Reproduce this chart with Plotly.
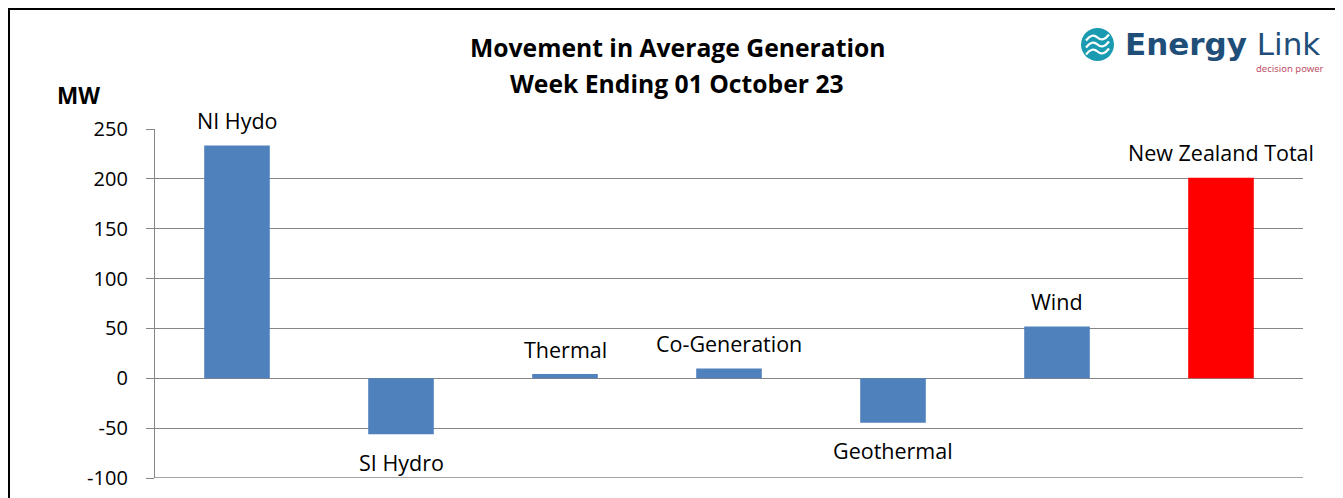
import plotly.graph_objects as go

categories = ["NI Hydo", "SI Hydro", "Thermal", "Co-Generation", "Geothermal", "Wind", "New Zealand Total"]
values = [233.5, -56, 4.3, 9.8, -44.5, 52, 201]
bar_colors = ["#4F81BD", "#4F81BD", "#4F81BD", "#4F81BD", "#4F81BD", "#4F81BD", "#FF0000"]
tick_vals = [-100, -50, 0, 50, 100, 150, 200, 250]
tick_text = ["-100", "-50", "0", "50", "100", "150", "200", "250"]
title_lines = ["Movement in Average Generation", "Week Ending 01 October 23"]

# The page body has an 8px margin, so the figure sits at (8, 8) in the window.
OFF = 8
W, H = 1335, 490
ML, MR, MT, MB = 147, 40, 121, 20
PW, PH = W - ML - MR, H - MT - MB
Y_MIN, Y_MAX = tick_vals[0], tick_vals[-1]

def px(x):
    # window pixel -> paper coordinate
    return (x - OFF - ML) / PW

def py(y):
    return (H - MB - (y - OFF)) / PH

FONT = "Open Sans, Noto Sans, Liberation Sans, sans-serif"
GRID = "#868686"

fig = go.Figure()
fig.add_trace(go.Bar(
    x=categories, y=values, marker=dict(color=bar_colors, line=dict(width=0)),
    width=0.4, showlegend=False, hoverinfo="x+y",
))

annotations = []
for c, v in zip(categories, values):
    annotations.append(dict(
        x=c, y=v, xref="x", yref="y", text=c, showarrow=False,
        yshift=25 if v >= 0 else -28,
        font=dict(size=21.5, color="#000000", family=FONT),
    ))

for txt, ypos in zip(title_lines, (47, 83)):
    annotations.append(dict(
        x=px(677), y=py(ypos), xref="paper", yref="paper",
        text="<b>" + txt + "</b>",
        showarrow=False, font=dict(size=24.7, color="#000000", family=FONT),
        align="center", xanchor="center", yanchor="middle",
    ))
annotations.append(dict(
    x=px(78), y=py(95), xref="paper", yref="paper", text="<b>MW</b>",
    showarrow=False, font=dict(size=22.5, color="#000000", family=FONT),
    xanchor="center", yanchor="middle",
))
# Logo text
annotations.append(dict(
    x=px(1123), y=py(44), xref="paper", yref="paper", text="<b>Energy</b> Link",
    showarrow=False, font=dict(size=31, color="#1F4E79", family="DejaVu Sans, Noto Sans, sans-serif"),
    xanchor="left", yanchor="middle",
))
annotations.append(dict(
    x=px(1326), y=py(69), xref="paper", yref="paper", text="decision power",
    showarrow=False, font=dict(size=9.5, color="#C0506A", family="Noto Sans, sans-serif"),
    xanchor="right", yanchor="middle",
))

shapes = [
    # outer frame
    dict(type="line", xref="paper", yref="paper", x0=px(9), x1=px(9), y0=py(9), y1=py(520),
         line=dict(color="#000000", width=2)),
    dict(type="line", xref="paper", yref="paper", x0=px(8), x1=px(1343), y0=py(9), y1=py(9),
         line=dict(color="#000000", width=2)),
    # bottom gridline at axis minimum
    dict(type="line", xref="paper", yref="y", x0=0, x1=1, y0=Y_MIN, y1=Y_MIN,
         line=dict(color=GRID, width=1.3), layer="below"),
    # logo circle
    dict(type="circle", xref="paper", yref="paper", x0=px(1081), x1=px(1114), y0=py(28), y1=py(61),
         fillcolor="#1A9BB2", line=dict(width=0)),
]
# logo waves
for dy in (-7, 0, 7):
    cy = 44.5 + dy
    path = "M {:.5f},{:.5f} Q {:.5f},{:.5f} {:.5f},{:.5f} T {:.5f},{:.5f}".format(
        px(1086), py(cy + 3), px(1092), py(cy - 5), px(1097.5), py(cy), px(1109), py(cy - 3))
    shapes.append(dict(type="path", xref="paper", yref="paper", path=path,
                       line=dict(color="#FFFFFF", width=2.2)))

fig.update_layout(
    width=W, height=H,
    margin=dict(l=ML, r=MR, t=MT, b=MB, autoexpand=False),
    paper_bgcolor="#FFFFFF", plot_bgcolor="#FFFFFF",
    font=dict(family=FONT, size=18, color="#000000"),
    bargap=0.6,
    xaxis=dict(range=[-0.5, len(categories) - 0.5], autorange=False, automargin=False,
               showticklabels=False, showgrid=False, zeroline=False, showline=False,
               ticks="", fixedrange=True),
    yaxis=dict(range=[Y_MIN, Y_MAX], autorange=False, automargin=False,
               tickvals=tick_vals, ticktext=tick_text,
               showgrid=True, gridcolor=GRID,
               gridwidth=1.3, zeroline=True, zerolinecolor=GRID, zerolinewidth=1.3,
               showline=True, linecolor=GRID, linewidth=1.3,
               ticks="outside", ticklen=8, tickcolor=GRID, tickwidth=1.3,
               ticklabelstandoff=14,
               tickfont=dict(size=20, family=FONT, color="#000000"), fixedrange=True),
    annotations=annotations, shapes=shapes,
)

fig.write_html("out.html", config={"displayModeBar": False})
